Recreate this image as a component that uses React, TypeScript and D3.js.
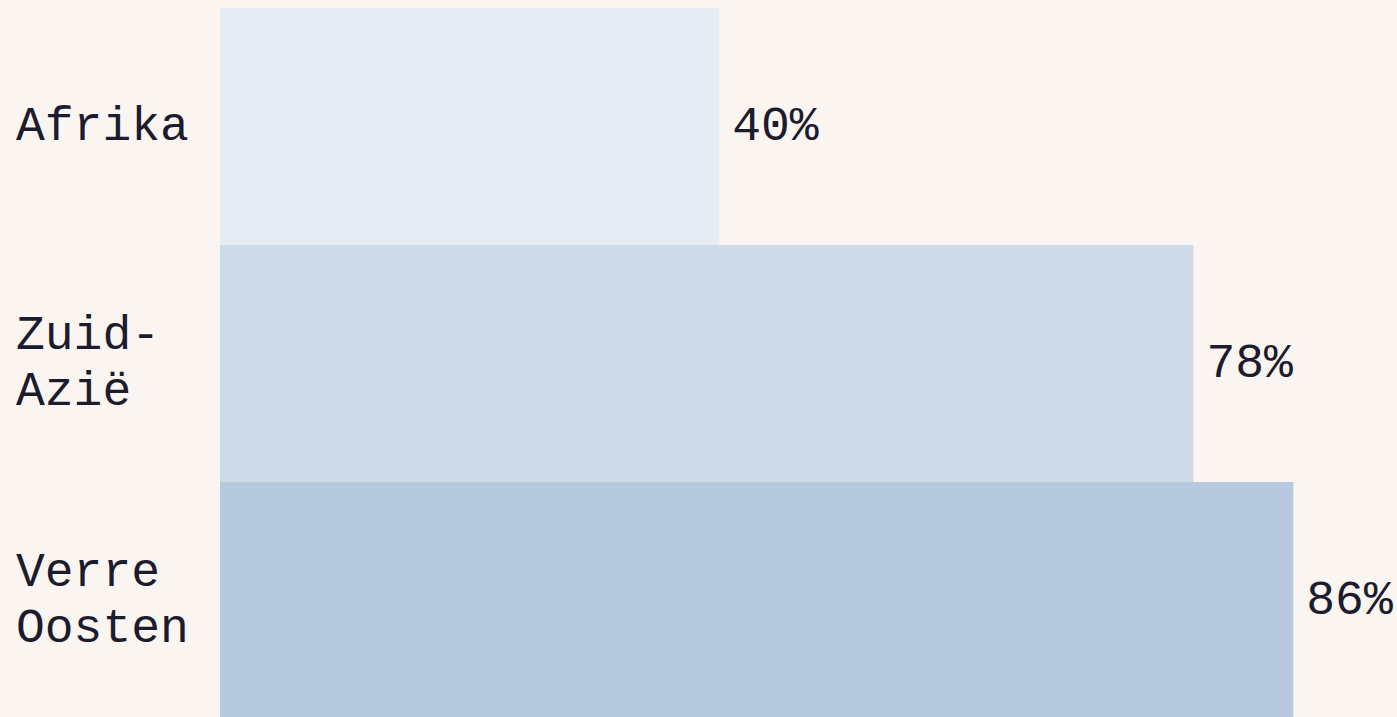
import React, { useEffect } from 'react';
import * as d3 from 'd3';

// regions (one entry may wrap over two lines) and their share in percent
const regions = ['Afrika', 'Zuid-Azië', 'Verre Oosten'];
const labelLines = [['Afrika'], ['Zuid-', 'Azië'], ['Verre', 'Oosten']];
const shares = [40, 78, 86];
const barColors = ['#e5ecf4', '#cfdbe8', '#b6c9df'];

const width = 1389;
const height = 709;
const font = '"Courier New", Courier, "Nimbus Mono PS", "Nimbus Mono L", "FreeMono", monospace';
const ink = '#1c1c2e';

export default function App() {
  useEffect(() => {
    // page background and no scrollbars
    document.body.style.margin = '8px 0 0 8px';
    document.body.style.overflow = 'hidden';
    document.body.style.background = '#faf5f1';
  }, []);

  const x = d3.scaleLinear().domain([0, 100]).range([212, 212 + 1248]);
  const y = d3.scaleBand().domain(regions).range([0, 711]).padding(0);

  return (
    <svg width={width} height={height} style={{ display: 'block', overflow: 'hidden' }}>
      {regions.map((r, i) => {
        const cy = y(r)! + y.bandwidth() / 2;
        const lines = labelLines[i];
        return (
          <g key={r}>
            <rect x={x(0)} y={y(r)!} width={x(shares[i]) - x(0)} height={y.bandwidth()} fill={barColors[i]} />
            <text fontFamily={font} fontSize={48} fill={ink}>
              {lines.map((l, j) => (
                <tspan key={l} x={8} y={cy + (j - (lines.length - 1) / 2) * 56} dy="0.29em">
                  {l}
                </tspan>
              ))}
            </text>
            <text x={x(shares[i]) + 13} y={cy} dy="0.28em" fontFamily={font} fontSize={48} fill={ink}>
              {shares[i]}%
            </text>
          </g>
        );
      })}
    </svg>
  );
}
